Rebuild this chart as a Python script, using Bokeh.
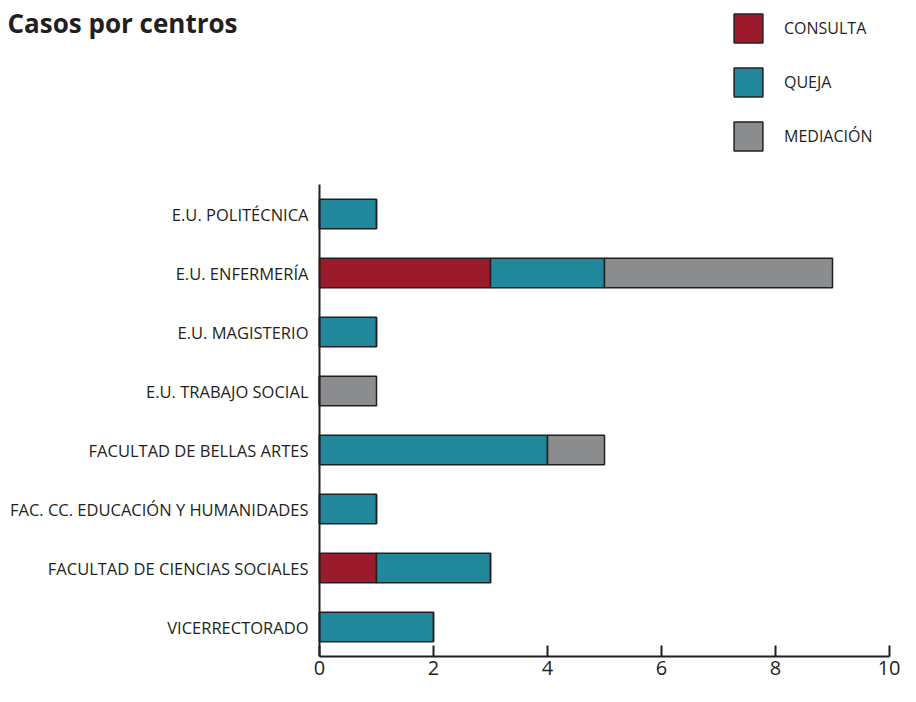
from bokeh.plotting import figure
from bokeh.models import Range1d, Legend, LegendItem, ColumnDataSource, FixedTicker, Label
from bokeh.core.properties import value
from bokeh.embed import file_html
from bokeh.resources import INLINE

# Data (bottom to top)
centros = [
    "VICERRECTORADO",
    "FACULTAD DE CIENCIAS SOCIALES",
    "FAC. CC. EDUCACIÓN Y HUMANIDADES",
    "FACULTAD DE BELLAS ARTES",
    "E.U. TRABAJO SOCIAL",
    "E.U. MAGISTERIO",
    "E.U. ENFERMERÍA",
    "E.U. POLITÉCNICA",
]
consulta = [0, 1, 0, 0, 0, 0, 3, 0]
queja = [2, 2, 1, 4, 0, 1, 2, 1]
mediacion = [0, 0, 0, 1, 1, 0, 4, 0]
series = ["CONSULTA", "QUEJA", "MEDIACIÓN"]
colors = ["#9b1b2c", "#21889b", "#8b8c8e"]
x_ticks = [0, 2, 4, 6, 8, 10]
title_text = "Casos por centros"

FONT = "Open Sans"
INK = "#231f20"

# Layout constants (pixels)
FRAME_W, FRAME_H = 900, 656
BOTTOM = 30
X0_PX, X10_PX = 319, 889          # pixel position of value 0 and value 10
CAT_PX = 59                        # pixels per category row
x_scale = (X10_PX - X0_PX) / 10.0
x_lo = -X0_PX / x_scale
x_hi = 10 + (FRAME_W - X10_PX) / x_scale
y_lo = -0.5
y_hi = y_lo + FRAME_H / CAT_PX

n = len(centros)
idx = list(range(n))
source = ColumnDataSource(dict(
    idx=idx, centro=centros, zero=[0] * n,
    CONSULTA=consulta, QUEJA=queja, **{"MEDIACIÓN": mediacion},
))

p = figure(
    frame_width=FRAME_W, frame_height=FRAME_H,
    x_range=Range1d(x_lo, x_hi), y_range=Range1d(y_lo, y_hi),
    output_backend="svg", toolbar_location=None,
    y_axis_location=None,
    min_border_left=0, min_border_right=0, min_border_top=0, min_border_bottom=BOTTOM,
)
p.outline_line_color = None
p.xgrid.visible = False
p.ygrid.visible = False
p.background_fill_color = "white"
p.border_fill_color = "white"

renderers = p.hbar_stack(series, y="idx", height=0.5, color=colors, source=source,
                         line_color=INK, line_width=1.5)

# y axis line and category labels
p.segment(x0=[0], y0=[y_lo], x1=[0], y1=[n - 0.5], line_color=INK, line_width=2)
p.text(x="zero", y="idx", text="centro", source=source, x_offset=-11,
       text_align="right", text_baseline="middle", text_font=value(FONT),
       text_font_size="16.5px", text_color=INK)

# x axis
xa = p.xaxis[0]
xa.bounds = (0, 10)
xa.ticker = FixedTicker(ticks=x_ticks)
xa.axis_line_color = INK
xa.axis_line_width = 2
xa.major_tick_line_color = INK
xa.major_tick_line_width = 2
xa.major_tick_in = 11
xa.major_tick_out = 0
xa.minor_tick_line_color = None
xa.major_label_text_font = FONT
xa.major_label_text_font_size = "20px"
xa.major_label_text_color = INK
xa.major_label_standoff = 4

# title
p.add_layout(Label(x=7, y=FRAME_H - 4, x_units="screen", y_units="screen", text=title_text,
                   text_font=FONT, text_font_size="26px", text_font_style="bold",
                   text_color=INK, text_baseline="top", text_align="left"))

legend = Legend(
    items=[LegendItem(label=s, renderers=[r]) for s, r in zip(series, renderers)],
    location=(730, FRAME_H - 154),
    glyph_width=36, glyph_height=36, spacing=18, padding=0, margin=0,
    label_standoff=18, label_text_font=FONT, label_text_font_size="16px",
    label_text_color=INK, border_line_color=None, background_fill_alpha=0,
)
p.add_layout(legend)

open("out.html", "w").write(file_html(p, INLINE))
